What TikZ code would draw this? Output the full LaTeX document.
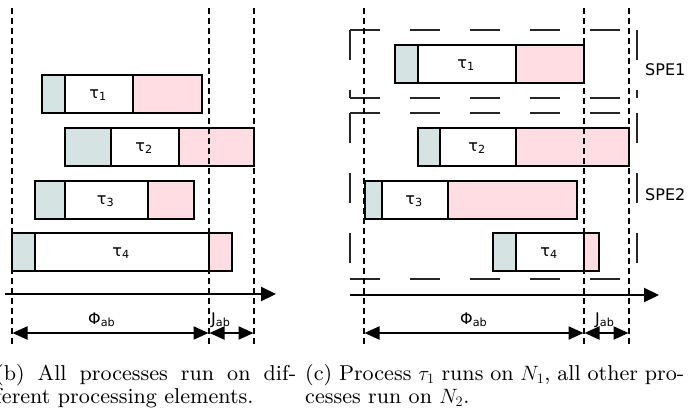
\documentclass[tikz,border=0pt]{standalone}
\usepackage{fontspec}
\usetikzlibrary{arrows.meta}
\newfontfamily\lblfont{DejaVu Sans}
\newfontfamily\capf{lmroman9-regular.otf}
\definecolor{startc}{HTML}{D6E3E3}
\definecolor{endc}{HTML}{FFDDE3}
\tikzset{
  boxline/.style={line width=2.4pt, line join=miter},
  lbl/.style={font=\fontsize{16}{19}\selectfont\lblfont, inner sep=0pt},
  dotl/.style={line width=2.6pt, dash pattern=on 5.5pt off 4.5pt},
  axisline/.style={line width=2.2pt, -{Triangle[length=15pt,width=14pt]}},
  span/.style={line width=2.2pt, {Triangle[length=15pt,width=13pt]}-{Triangle[length=15pt,width=13pt]}, shorten <=0.5pt, shorten >=0.5pt},
  spe/.style={line width=1.1pt, draw=black!85, dash pattern=on 30pt off 30pt},
  capfont/.style={font=\fontsize{21.5}{21}\selectfont\capf, inner sep=0pt, anchor=base west}
}
\newcommand\taskbar[8]{% name, x0,x1,x2,x3, ytop, ybot, label
  \fill[startc] (#2,#6) rectangle (#3,#7);
  \fill[endc] (#4,#6) rectangle (#5,#7);
  \draw[boxline] (#3,#6) -- (#3,#7) (#4,#6) -- (#4,#7);
  \draw[boxline] (#2,#6) rectangle (#5,#7);
  \node[lbl] (#1) at ({(#3+#4)/2-1},{(#6+#7)/2+1}) {#8};
}
\begin{document}
\begin{tikzpicture}[x=1pt,y=-1pt]
\useasboundingbox (0,0) rectangle (688,413);

% ---------------- left panel (b) ----------------
\taskbar{bt1}{42}{65}{133}{202}{75}{113}{τ\textsubscript{1}}
\taskbar{bt2}{65}{111}{179}{254}{128}{166}{τ\textsubscript{2}}
\taskbar{bt3}{35}{65}{148}{194}{181}{219}{τ\textsubscript{3}}
\taskbar{bt4}{12}{35}{209}{232}{233}{271}{τ\textsubscript{4}}

\coordinate (bL1t) at (12,8);   \coordinate (bL1b) at (12,346);
\coordinate (bL2t) at (209,8);  \coordinate (bL2b) at (209,346);
\coordinate (bL3t) at (254,8);  \coordinate (bL3b) at (254,346);
\draw[dotl] (bL1t) -- (bL1b);
\draw[dotl] (bL2t) -- (bL2b);
\draw[dotl] (bL3t) -- (bL3b);

\coordinate (bAx0) at (5,294); \coordinate (bAx1) at (276,294);
\draw[axisline] (bAx0) -- (bAx1);

\coordinate (bP0) at (12,333); \coordinate (bP1) at (209,333); \coordinate (bP2) at (254,333);
\draw[span] (bP0) -- (bP1);
\draw[span] (bP1) -- (bP2);
\node[lbl, anchor=base west] (bphi) at (88,324) {Φ\textsubscript{ab}};
\node[lbl, anchor=base west] (bjit) at (211,324) {J\textsubscript{ab}};

% ---------------- right panel (c) ----------------
\coordinate (s1tl) at (350,30);  \coordinate (s1tr) at (637,30);
\coordinate (s1bl) at (350,98);  \coordinate (s1br) at (637,98);
\draw[spe] (s1tl) -- (s1tr);
\draw[spe] (s1bl) -- (s1br);
\draw[spe] (s1tl) -- (s1bl);
\draw[spe] (s1tr) -- (s1br);
\coordinate (s2tl) at (350,113); \coordinate (s2tr) at (637,113);
\coordinate (s2bl) at (350,279); \coordinate (s2br) at (637,279);
\draw[spe] (s2tl) -- (s2tr);
\draw[spe] (s2bl) -- (s2br);
\draw[spe] (s2tl) -- (s2bl);
\draw[spe] (s2tr) -- (s2br);
\node[lbl, anchor=base west] (spe1) at (645,75) {SPE1};
\node[lbl, anchor=base west] (spe2) at (645,200) {SPE2};

\taskbar{ct1}{395}{418}{516}{584}{45}{83}{τ\textsubscript{1}}
\taskbar{ct2}{418}{440}{516}{629}{128}{166}{τ\textsubscript{2}}
\taskbar{ct3}{365}{382}{448}{577}{181}{219}{τ\textsubscript{3}}
\taskbar{ct4}{493}{516}{584}{599}{233}{271}{τ\textsubscript{4}}

\coordinate (cL1t) at (364,8);  \coordinate (cL1b) at (364,346);
\coordinate (cL2t) at (584,8);  \coordinate (cL2b) at (584,346);
\coordinate (cL3t) at (629,8);  \coordinate (cL3b) at (629,346);
\draw[dotl] (cL1t) -- (cL1b);
\draw[dotl] (cL2t) -- (cL2b);
\draw[dotl] (cL3t) -- (cL3b);

\coordinate (cAx0) at (350,295); \coordinate (cAx1) at (659,295);
\draw[axisline] (cAx0) -- (cAx1);

\coordinate (cP0) at (364,333); \coordinate (cP1) at (584,333); \coordinate (cP2) at (629,333);
\draw[span] (cP0) -- (cP1);
\draw[span] (cP1) -- (cP2);
\node[lbl, anchor=base west] (cphi) at (460,324) {Φ\textsubscript{ab}};
\node[lbl, anchor=base west] (cjit) at (595,324) {J\textsubscript{ab}};

% ---------------- captions ----------------
\node[capfont] (capb1) at (-5,380) {\makebox[301pt][s]{(b) All processes run on dif-}};
\node[capfont] (capb2) at (-5,403) {ferent processing elements.};
\node[capfont] (capc1) at (305,380) {\makebox[379pt][s]{(c) Process $\tau_1$ runs on $N_1$, all other pro-}};
\node[capfont] (capc2) at (305,403) {cesses run on $N_2$.};
\end{tikzpicture}
\end{document}
